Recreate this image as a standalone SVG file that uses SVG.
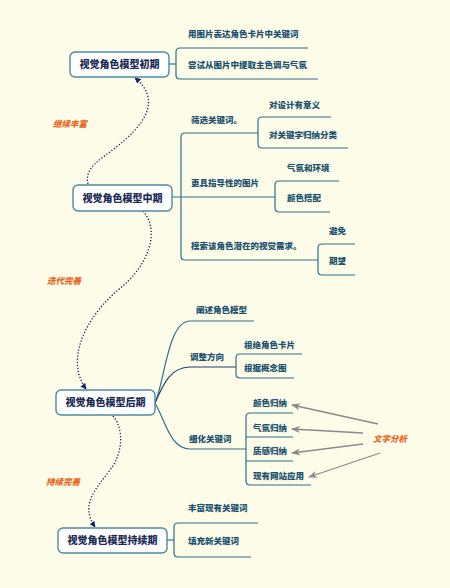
<svg xmlns="http://www.w3.org/2000/svg" width="450" height="588" viewBox="0 0 450 588">
<defs>
<marker id="dotArrow" viewBox="0 0 10 10" refX="9" refY="5" markerWidth="6" markerHeight="6" orient="auto-start-reverse" markerUnits="userSpaceOnUse">
<path d="M0,0 L10,5 L0,10 z" fill="#1c1f6b"/>
</marker>
<marker id="grayArrow" viewBox="0 0 10 10" refX="9" refY="5" markerWidth="9" markerHeight="9" orient="auto" markerUnits="userSpaceOnUse">
<path d="M0,1 L10,5 L0,9 L3,5 z" fill="#8a8a8a"/>
</marker>
<style>
.node rect{fill:#ffffff;stroke:#4d8aa1;stroke-width:1.4}
.ntext{font-family:"Noto Sans CJK SC","Noto Sans",sans-serif;font-size:10px;font-weight:900;fill:#1c2b55;text-anchor:middle}
.ctext{font-family:"Noto Sans CJK SC","Noto Sans",sans-serif;font-size:8.5px;font-weight:900;fill:#1d5370}
.br{fill:none;stroke:#2f6f8c;stroke-width:1.2}
.brd{fill:none;stroke:#1f3f6e;stroke-width:1.2}
.dot{fill:none;stroke:#1c1f6b;stroke-width:1.3;stroke-dasharray:1.3 1.8}
.gray{fill:none;stroke:#8a8a8a;stroke-width:1.3}
.olab{font-family:"Noto Sans CJK SC","Noto Sans",sans-serif;font-size:8.5px;font-weight:900;font-style:italic;fill:#e8671c}
</style>
</defs>
<rect x="0" y="0" width="450" height="588" fill="#fdfce9"/>

<g id="connectors">
<path class="dot" d="M88,184 C84,168 100,160 115,148 C145,125 162,100 135,78" marker-end="url(#dotArrow)"/>
<path class="dot" d="M143,211 C160,230 150,265 118,290 C85,318 65,360 86,389" marker-end="url(#dotArrow)"/>
<path class="dot" d="M113,416 C125,430 122,455 110,470 C95,490 80,505 95,527" marker-end="url(#dotArrow)"/>
<text class="olab" x="53" y="127">继续丰富</text>
<text class="olab" x="47" y="284">迭代完善</text>
<text class="olab" x="46" y="485">持续完善</text>
<!-- node1 branches -->
<path class="br" d="M169,64 H176"/>
<path class="br" d="M308,48 H180 Q176,48 176,52 V75 Q176,79 180,79 H318"/>
<!-- node2 branches -->
<path class="br" d="M172,197 H275"/>
<path class="br" d="M258,133 H185 Q181,133 181,137 V256 Q181,260 185,260 H318"/>
<path class="br" d="M331,117 H262 Q258,117 258,121 V144 Q258,148 262,148 H348"/>
<path class="br" d="M339,181 H279 Q275,181 275,185 V208 Q275,212 279,212 H330"/>
<path class="br" d="M355,244 H322 Q318,244 318,248 V271 Q318,275 322,275 H355"/>
<!-- node3 branches -->
<path class="br" d="M155,403 C165,380 168,321 190,321 H254"/>
<path class="brd" d="M155,403 C163,385 170,367 190,367 H236"/>
<path class="br" d="M155,403 C165,420 170,449 190,449 H246"/>
<path class="br" d="M302,354 H240 Q236,354 236,358 V374 Q236,378 240,378 H294"/>
<path class="br" d="M293,413 H250 Q246,413 246,417 V481 Q246,485 250,485 H311"/>
<path class="br" d="M246,437 H293 M246,461 H293"/>
<!-- text analysis arrows -->
<path class="gray" d="M378,424 L292,405" marker-end="url(#grayArrow)"/>
<path class="gray" d="M363,433 L292,429" marker-end="url(#grayArrow)"/>
<path class="gray" d="M363,444 L292,453" marker-end="url(#grayArrow)"/>
<path class="gray" d="M380,453 L309,477" marker-end="url(#grayArrow)"/>
<text class="olab" x="373" y="442">文字分析</text>
<!-- node4 branches -->
<path class="br" d="M167,540 H174"/>
<path class="br" d="M258,523 H178 Q174,523 174,527 V553 Q174,557 178,557 H251"/>
</g>

<g id="n1" class="node">
<rect x="70" y="52" width="99" height="25" rx="5"/>
<text class="ntext" x="119.5" y="68">视觉角色模型初期</text>
</g>
<g id="n1c1"><text class="ctext" x="188" y="37">用图片表达角色卡片中关键词</text></g>
<g id="n1c2"><text class="ctext" x="188" y="68">尝试从图片中提取主色调与气氛</text></g>

<g id="n2" class="node">
<rect x="73" y="185" width="99" height="26" rx="5"/>
<text class="ntext" x="122.5" y="201.5">视觉角色模型中期</text>
</g>
<g id="n2c1"><text class="ctext" x="191" y="123">筛选关键词。</text></g>
<g id="n2c1a"><text class="ctext" x="269" y="108">对设计有意义</text></g>
<g id="n2c1b"><text class="ctext" x="269" y="138">对关键字归纳分类</text></g>
<g id="n2c2"><text class="ctext" x="191" y="186">更具指导性的图片</text></g>
<g id="n2c2a"><text class="ctext" x="287" y="171">气氛和环境</text></g>
<g id="n2c2b"><text class="ctext" x="287" y="201">颜色搭配</text></g>
<g id="n2c3"><text class="ctext" x="191" y="249">摸索该角色潜在的视觉需求。</text></g>
<g id="n2c3a"><text class="ctext" x="329" y="234">避免</text></g>
<g id="n2c3b"><text class="ctext" x="329" y="264">期望</text></g>

<g id="n3" class="node">
<rect x="56" y="390" width="99" height="25" rx="5"/>
<text class="ntext" x="105.5" y="406">视觉角色模型后期</text>
</g>
<g id="n3c1"><text class="ctext" x="196" y="313">阐述角色模型</text></g>
<g id="n3c2"><text class="ctext" x="190" y="360">调整方向</text></g>
<g id="n3c2a"><text class="ctext" x="244" y="348">根绝角色卡片</text></g>
<g id="n3c2b"><text class="ctext" x="244" y="371">根据概念图</text></g>
<g id="n3c3"><text class="ctext" x="189" y="442">细化关键词</text></g>
<g id="n3c3a"><text class="ctext" x="253" y="406">颜色归纳</text></g>
<g id="n3c3b"><text class="ctext" x="253" y="431">气氛归纳</text></g>
<g id="n3c3c"><text class="ctext" x="253" y="454">质感归纳</text></g>
<g id="n3c3d"><text class="ctext" x="253" y="479">现有网站应用</text></g>

<g id="n4" class="node">
<rect x="58" y="528" width="109" height="25" rx="5"/>
<text class="ntext" x="112.5" y="544">视觉角色模型持续期</text>
</g>
<g id="n4c1"><text class="ctext" x="188" y="511">丰富现有关键词</text></g>
<g id="n4c2"><text class="ctext" x="188" y="544">填充新关键词</text></g>
</svg>
